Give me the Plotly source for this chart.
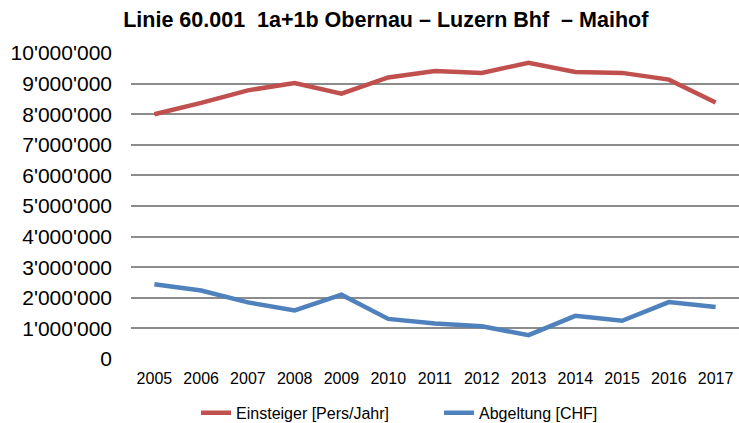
import plotly.graph_objects as go

years = ["2005", "2006", "2007", "2008", "2009", "2010", "2011", "2012", "2013", "2014", "2015", "2016", "2017"]
einsteiger = [8000000, 8370000, 8780000, 9020000, 8670000, 9200000, 9410000, 9350000, 9680000, 9380000, 9350000, 9130000, 8380000]
abgeltung = [2440000, 2240000, 1850000, 1590000, 2100000, 1310000, 1160000, 1070000, 780000, 1410000, 1250000, 1860000, 1700000]
ytick_vals = [0, 1000000, 2000000, 3000000, 4000000, 5000000, 6000000, 7000000, 8000000, 9000000, 10000000]
ytick_text = ["0", "1'000'000", "2'000'000", "3'000'000", "4'000'000", "5'000'000",
              "6'000'000", "7'000'000", "8'000'000", "9'000'000", "10'000'000"]

FONT = "Liberation Sans, Arial, sans-serif"

fig = go.Figure()
fig.add_trace(go.Scatter(x=years, y=einsteiger, mode="lines", name="Einsteiger [Pers/Jahr]",
                         line=dict(color="#C0504D", width=4.5), legend="legend"))
fig.add_trace(go.Scatter(x=years, y=abgeltung, mode="lines", name="Abgeltung [CHF]",
                         line=dict(color="#4F81BD", width=4.5), legend="legend2"))

leg_common = dict(orientation="h", xanchor="left", yref="container", y=0.024, yanchor="middle",
                  font=dict(size=16, family=FONT, color="#000000"), bgcolor="rgba(0,0,0,0)")

fig.update_layout(
    width=739, height=423,
    margin=dict(l=131, r=0, t=53, b=64, autoexpand=False),
    paper_bgcolor="white", plot_bgcolor="white",
    font=dict(family=FONT, color="#000000"),
    title=dict(text="<b>Linie 60.001  1a+1b Obernau – Luzern Bhf  – Maihof</b>",
               x=0.522, xanchor="center", xref="container",
               y=0.953, yanchor="middle", yref="container",
               font=dict(size=21.5, family=FONT, color="#000000")),
    showlegend=True,
    legend=dict(x=0.107, **leg_common),
    legend2=dict(x=0.5066, **leg_common),
)
fig.update_xaxes(type="category", range=[-0.5, 12.5], showgrid=False, showline=False,
                 ticks="", automargin=False, ticklabelstandoff=8,
                 tickfont=dict(size=16, family=FONT, color="#000000"))
fig.update_yaxes(range=[0, 10000000], tickvals=ytick_vals, ticktext=ytick_text,
                 showgrid=True, gridcolor="#8c8c8c", gridwidth=1.5, zeroline=False,
                 showline=False, ticks="", ticklabelstandoff=18, automargin=False,
                 tickfont=dict(size=21, family=FONT, color="#000000"))

fig.write_html("out.html", config={"displayModeBar": False},
               post_script="document.body.style.margin='0';")
